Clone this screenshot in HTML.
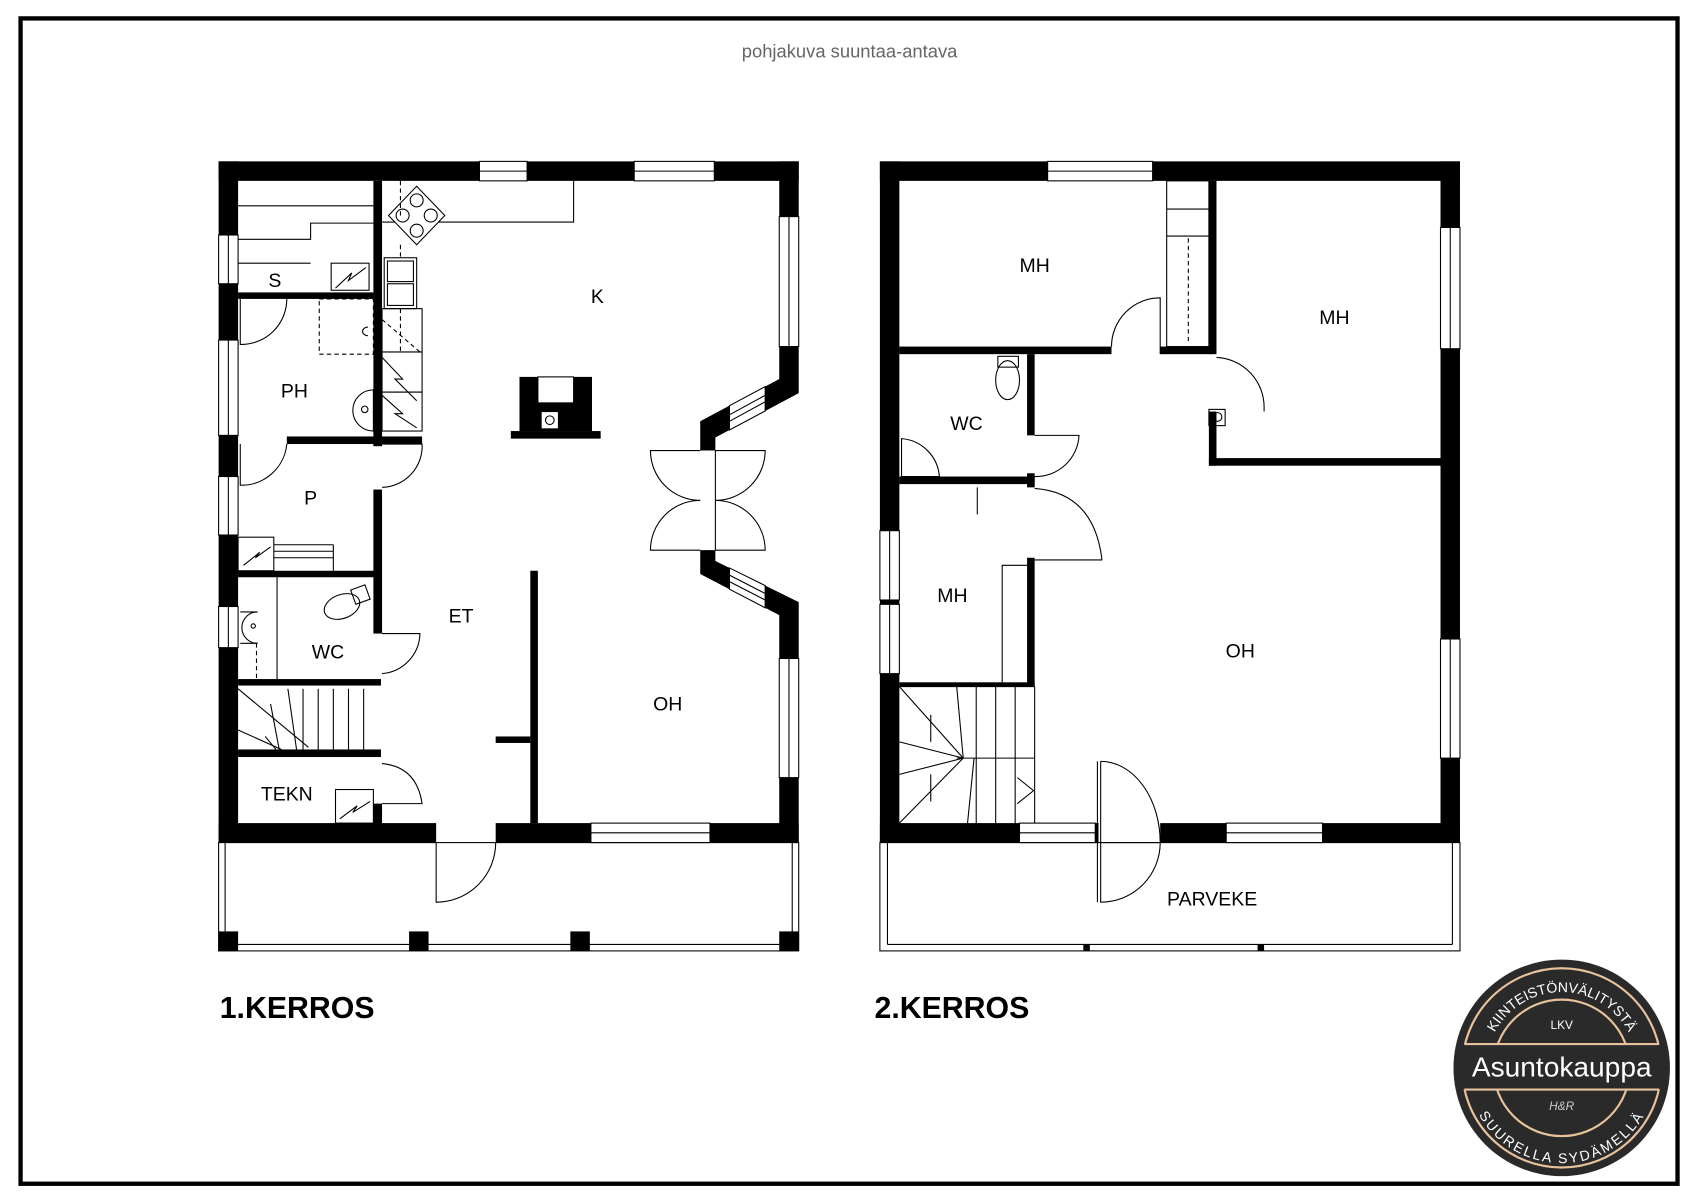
<!DOCTYPE html>
<html><head><meta charset="utf-8"><style>
html,body{margin:0;padding:0;background:#fff}
svg{display:block}
text{font-family:"Liberation Sans",Arial,sans-serif}
</style></head><body>
<svg width="1697" height="1200" viewBox="0 0 1568 1108" preserveAspectRatio="none" xmlns="http://www.w3.org/2000/svg" xmlns:xlink="http://www.w3.org/1999/xlink">
<rect x="0" y="0" width="1568" height="1108" fill="#fff"/>
<rect x="19" y="17" width="1531" height="1076" fill="none" stroke="#000" stroke-width="4"/>
<text x="785" y="53" font-size="17" fill="#666" text-anchor="middle">pohjakuva suuntaa-antava</text>

<g fill="#000">
<rect x="202" y="149" width="241" height="18"/>
<rect x="487" y="149" width="99" height="18"/>
<rect x="660" y="149" width="78" height="18"/>
<rect x="202" y="149" width="18" height="68"/>
<rect x="202" y="262" width="18" height="52"/>
<rect x="202" y="402" width="18" height="38"/>
<rect x="202" y="494" width="18" height="66"/>
<rect x="202" y="598" width="18" height="180"/>
<rect x="720" y="149" width="18" height="51"/>
<rect x="720" y="718" width="18" height="60"/>
<polygon points="720,320 738,320 738,363 661,404 661,416 647,416 647,389 720,350"/>
<polygon points="647,508 661,508 661,518 738,556 738,608 720,608 720,568 647,530"/>
<rect x="202" y="760" width="201" height="18"/>
<rect x="458" y="760" width="88" height="18"/>
<rect x="656" y="760" width="82" height="18"/>
<rect x="345" y="167" width="8" height="245"/>
<rect x="220" y="270" width="125" height="6"/>
<rect x="265" y="403" width="125" height="7"/>
<rect x="345" y="452" width="8" height="133"/>
<rect x="220" y="527" width="128" height="6"/>
<rect x="220" y="627" width="132" height="6"/>
<rect x="220" y="692" width="132" height="7"/>
<rect x="345" y="742" width="8" height="20"/>
<rect x="490" y="527" width="7" height="233"/>
<rect x="458" y="680" width="32" height="6"/>
<rect x="480" y="348" width="67" height="50"/>
<rect x="472" y="398" width="83" height="7"/>
</g>
<g fill="#fff" stroke="#000" stroke-width="1">
<rect x="497" y="348" width="33" height="24"/>
<rect x="500" y="380" width="16" height="16"/>
<circle cx="508" cy="388" r="4"/>
<polygon points="674,374.6 707,357 707,379.5 674,397"/>
<line x1="674" y1="383" x2="707" y2="365"/><line x1="674" y1="389" x2="707" y2="371"/>
<polygon points="674,524.4 707,540.7 707,561.2 674,544"/>
<line x1="674" y1="531" x2="707" y2="548"/><line x1="674" y1="537" x2="707" y2="554"/>
</g>
<g fill="none" stroke="#000" stroke-width="1">
<rect x="443" y="149" width="44" height="18"/><line x1="443" y1="158" x2="487" y2="158"/>
<rect x="586" y="149" width="74" height="18"/><line x1="586" y1="158" x2="660" y2="158"/>
<rect x="720" y="200" width="18" height="120"/><line x1="729" y1="200" x2="729" y2="320"/>
<rect x="720" y="608" width="18" height="110"/><line x1="729" y1="608" x2="729" y2="718"/>
<rect x="546" y="760" width="110" height="18"/><line x1="546" y1="769" x2="656" y2="769"/>
<rect x="202" y="217" width="18" height="45"/><line x1="211" y1="217" x2="211" y2="262"/>
<rect x="202" y="314" width="18" height="88"/><line x1="211" y1="314" x2="211" y2="402"/>
<rect x="202" y="440" width="18" height="54"/><line x1="211" y1="440" x2="211" y2="494"/>
<rect x="202" y="560" width="18" height="38"/><line x1="211" y1="560" x2="211" y2="598"/>
<polyline points="353,205 530,205 530,167"/>
<polygon points="359,199 385,172 411,199 385,226" fill="#fff"/>
<circle cx="385" cy="185" r="6"/><circle cx="372" cy="199" r="6"/><circle cx="398" cy="199" r="6"/><circle cx="385" cy="213" r="6"/>
<rect x="355" y="238" width="30" height="47"/><rect x="358" y="241" width="24" height="19"/><rect x="358" y="262" width="24" height="20"/>
<rect x="353" y="285" width="37" height="40"/>
<rect x="353" y="325" width="37" height="37"/>
<rect x="353" y="362" width="37" height="36"/>
<polyline points="353,330 372,350 365,350 385,370"/>
<polyline points="353,365 372,382 365,382 385,395"/>
<line x1="370" y1="167" x2="370" y2="200" stroke-dasharray="4,3"/>
<line x1="370" y1="226" x2="370" y2="238" stroke-dasharray="4,3"/>
<line x1="370" y1="285" x2="370" y2="325" stroke-dasharray="4,3"/>
<line x1="353" y1="295" x2="388" y2="325" stroke-dasharray="4,3"/>
<line x1="220" y1="190" x2="345" y2="190"/>
<polyline points="220,221 287,221 287,206 345,206"/>
<polyline points="220,243 287,243"/>
<rect x="306" y="243" width="35" height="25"/>
<polyline points="310,266 325,252 322,259 338,247"/>
<rect x="295" y="276" width="50" height="51" stroke-dasharray="4,3"/>
<path d="M345,360 A16,16 0 1 0 345,398 Z"/>
<circle cx="337" cy="378" r="3"/>
<path d="M340,302 a5,4 0 1 0 0,8"/>
<path d="M222,276 L222,318 A42,42 0 0 0 265,276"/>
<path d="M222,410 L222,448 A42,42 0 0 0 265,410"/>
<path d="M353,410 L390,410 A38,38 0 0 1 353,450"/>
<rect x="220" y="496" width="33" height="31"/>
<polyline points="225,522 240,510 236,515 250,505"/>
<line x1="253" y1="503" x2="308" y2="503"/><line x1="253" y1="509" x2="308" y2="509"/><line x1="253" y1="515" x2="308" y2="515"/><line x1="308" y1="503" x2="308" y2="527"/>
<line x1="256" y1="533" x2="256" y2="627"/>
<path d="M238,565 A14,14 0 1 0 238,594"/><path d="M222,565 L238,565 M222,594 L238,594"/>
<circle cx="234" cy="578" r="2"/>
<line x1="237" y1="594" x2="237" y2="627" stroke-dasharray="4,3"/>
<ellipse cx="316" cy="560" rx="17" ry="11" transform="rotate(-20 316 560)"/>
<rect x="326" y="542" width="14" height="14" transform="rotate(-20 333 549)"/>
<path d="M353,585 L388,585 A38,38 0 0 1 353,622"/>
<line x1="280" y1="636" x2="280" y2="692"/><line x1="294" y1="636" x2="294" y2="692"/><line x1="308" y1="636" x2="308" y2="692"/><line x1="322" y1="636" x2="322" y2="692"/><line x1="336" y1="636" x2="336" y2="692"/>
<line x1="220" y1="636" x2="285" y2="690"/><line x1="266" y1="636" x2="274" y2="692"/><line x1="250" y1="650" x2="258" y2="692"/>
<line x1="220" y1="674" x2="260" y2="692"/><line x1="245" y1="680" x2="255" y2="692"/>
<path d="M353,705 Q385,708 390,742 L353,742"/>
<rect x="310" y="729" width="35" height="31"/>
<polyline points="314,756 330,744 326,750 342,740"/>
<line x1="661" y1="416" x2="661" y2="508"/>
<path d="M661,416 L707,416 A46,46 0 0 1 661,462"/>
<path d="M661,508 L707,508 A46,46 0 0 0 661,462"/>
<path d="M647,416 L601,416 A46,46 0 0 0 647,462"/>
<path d="M647,508 L601,508 A46,46 0 0 1 647,462"/>
<path d="M403,778 L403,833 A55,55 0 0 0 458,778"/>
<rect x="202" y="778" width="536" height="100"/>
<line x1="208" y1="778" x2="208" y2="862"/><line x1="732" y1="778" x2="732" y2="862"/>
<line x1="220" y1="872" x2="720" y2="872"/>
</g>
<g fill="#000">
<rect x="202" y="860" width="18" height="18"/><rect x="378" y="860" width="18" height="18"/><rect x="527" y="860" width="18" height="18"/><rect x="720" y="860" width="18" height="18"/>
</g>
<g font-size="18" text-anchor="middle" fill="#000">
<text x="254" y="265">S</text><text x="272" y="367">PH</text><text x="287" y="466">P</text>
<text x="303" y="608">WC</text><text x="265" y="739">TEKN</text><text x="426" y="575">ET</text>
<text x="552" y="280">K</text><text x="617" y="656">OH</text>
</g>

<g fill="#000">
<rect x="813" y="149" width="155" height="18"/>
<rect x="1065" y="149" width="284" height="18"/>
<rect x="813" y="149" width="18" height="341"/>
<rect x="813" y="554" width="18" height="4"/>
<rect x="813" y="622" width="18" height="156"/>
<rect x="1331" y="149" width="18" height="61"/>
<rect x="1331" y="322" width="18" height="268"/>
<rect x="1331" y="700" width="18" height="78"/>
<rect x="813" y="760" width="129" height="18"/>
<rect x="1012" y="760" width="3" height="18"/>
<rect x="1072" y="760" width="61" height="18"/>
<rect x="1222" y="760" width="127" height="18"/>
<rect x="831" y="320" width="196" height="7"/>
<rect x="1072" y="320" width="48" height="7"/>
<rect x="1117" y="167" width="7" height="160"/>
<rect x="1117" y="380" width="7" height="50"/>
<rect x="1117" y="423" width="214" height="7"/>
<rect x="949" y="327" width="7" height="75"/>
<rect x="831" y="440" width="125" height="7"/>
<rect x="949" y="437" width="7" height="13"/>
<rect x="949" y="515" width="7" height="118"/>
<rect x="831" y="630" width="125" height="4"/>
</g>
<g fill="none" stroke="#000" stroke-width="1">
<rect x="968" y="149" width="97" height="18"/><line x1="968" y1="158" x2="1065" y2="158"/>
<rect x="1331" y="210" width="18" height="112"/><line x1="1340" y1="210" x2="1340" y2="322"/>
<rect x="1331" y="590" width="18" height="110"/><line x1="1340" y1="590" x2="1340" y2="700"/>
<rect x="813" y="490" width="18" height="64"/><line x1="822" y1="490" x2="822" y2="554"/>
<rect x="813" y="558" width="18" height="64"/><line x1="822" y1="558" x2="822" y2="622"/>
<rect x="942" y="760" width="70" height="18"/><line x1="942" y1="769" x2="1012" y2="769"/>
<rect x="1133" y="760" width="89" height="18"/><line x1="1133" y1="769" x2="1222" y2="769"/>
<rect x="1078" y="167" width="39" height="153"/>
<line x1="1078" y1="193" x2="1117" y2="193"/><line x1="1078" y1="218" x2="1117" y2="218"/>
<line x1="1098" y1="220" x2="1098" y2="318" stroke-dasharray="4,3"/>
<path d="M1072,327 L1072,275 A45,45 0 0 0 1027,320"/>
<path d="M1124,330 A46,46 0 0 1 1168,377 L1168,380"/>
<rect x="1117" y="378" width="15" height="15"/><circle cx="1125" cy="385" r="4"/>
<path d="M956,402 L997,402 A40,40 0 0 1 956,440"/>
<path d="M956,451 Q1010,455 1018,515 L1018,517 L956,517"/>
<ellipse cx="931" cy="351" rx="11" ry="18"/><rect x="922" y="329" width="19" height="10"/>
<path d="M833,405 A38,38 0 0 1 868,440 L833,440 Z"/>
<line x1="903" y1="450" x2="903" y2="475"/>
<polyline points="926,630 926,522 949,522"/>
<line x1="831" y1="634" x2="956" y2="634"/>
<line x1="902" y1="634" x2="902" y2="760"/><line x1="920" y1="634" x2="920" y2="760"/><line x1="938" y1="634" x2="938" y2="760"/><line x1="956" y1="634" x2="956" y2="760"/>
<line x1="884" y1="634" x2="890" y2="700"/><line x1="884" y1="700" x2="956" y2="700"/>
<line x1="831" y1="634" x2="890" y2="700"/><line x1="831" y1="685" x2="890" y2="700"/><line x1="831" y1="760" x2="890" y2="700"/>
<line x1="860" y1="660" x2="860" y2="685"/><line x1="860" y1="715" x2="860" y2="740"/>
<line x1="900" y1="700" x2="894" y2="760"/><line x1="831" y1="715" x2="890" y2="700"/>
<polyline points="940,718 955,730 940,742"/>
<path d="M1017,703 L1017,778 L1072,778 A55,75 0 0 0 1017,703"/>
<path d="M1017,778 L1017,833 A55,55 0 0 0 1072,778"/>
<line x1="1014" y1="703" x2="1014" y2="833"/>
<rect x="813" y="778" width="536" height="100"/>
<line x1="820" y1="778" x2="820" y2="872"/><line x1="1342" y1="778" x2="1342" y2="872"/>
<line x1="820" y1="872" x2="1342" y2="872"/>
</g>
<rect x="1001" y="872" width="6" height="6" fill="#000"/><rect x="1162" y="872" width="6" height="6" fill="#000"/>
<g font-size="18" text-anchor="middle" fill="#000">
<text x="956" y="251">MH</text><text x="1233" y="299">MH</text><text x="893" y="397">WC</text>
<text x="880" y="556">MH</text><text x="1146" y="607">OH</text><text x="1120" y="836">PARVEKE</text>
</g>

<text x="203" y="940" font-size="28" font-weight="bold">1.KERROS</text>
<text x="808" y="940" font-size="28" font-weight="bold">2.KERROS</text>

<g>
<circle cx="1443" cy="986" r="100" fill="#2a2a2a"/>
<circle cx="1443" cy="986" r="92" fill="none" stroke="#e8c29c" stroke-width="2"/>
<circle cx="1443" cy="986" r="63" fill="none" stroke="#e8c29c" stroke-width="2"/>
<rect x="1349" y="964" width="188" height="42" fill="#2a2a2a"/>
<line x1="1353" y1="964" x2="1533" y2="964" stroke="#e8c29c" stroke-width="2"/>
<line x1="1353" y1="1006" x2="1533" y2="1006" stroke="#e8c29c" stroke-width="2"/>
<text x="1443" y="994" font-size="26" fill="#fff" text-anchor="middle" font-family="'DejaVu Sans',sans-serif">Asuntokauppa</text>
<text x="1443" y="950" font-size="11" fill="#fff" text-anchor="middle">LKV</text>
<text x="1443" y="1025" font-size="11" fill="#ccc" text-anchor="middle" font-style="italic">H&amp;R</text>
<defs>
<path id="arcTop" d="M1373,986 A70,70 0 0 1 1513,986"/>
<path id="arcBot" d="M1355,986 A88,88 0 0 0 1531,986"/>
</defs>
<text font-size="13" fill="#fff" font-family="'DejaVu Sans Mono',monospace"><textPath xlink:href="#arcTop" href="#arcTop" startOffset="50%" text-anchor="middle">KIINTEISTÖNVÄLITYSTÄ</textPath></text>
<text font-size="13" fill="#fff" font-family="'DejaVu Sans Mono',monospace" letter-spacing="2"><textPath xlink:href="#arcBot" href="#arcBot" startOffset="50%" text-anchor="middle">SUURELLA SYDÄMELLÄ</textPath></text>
</g>
</svg>
</body></html>
